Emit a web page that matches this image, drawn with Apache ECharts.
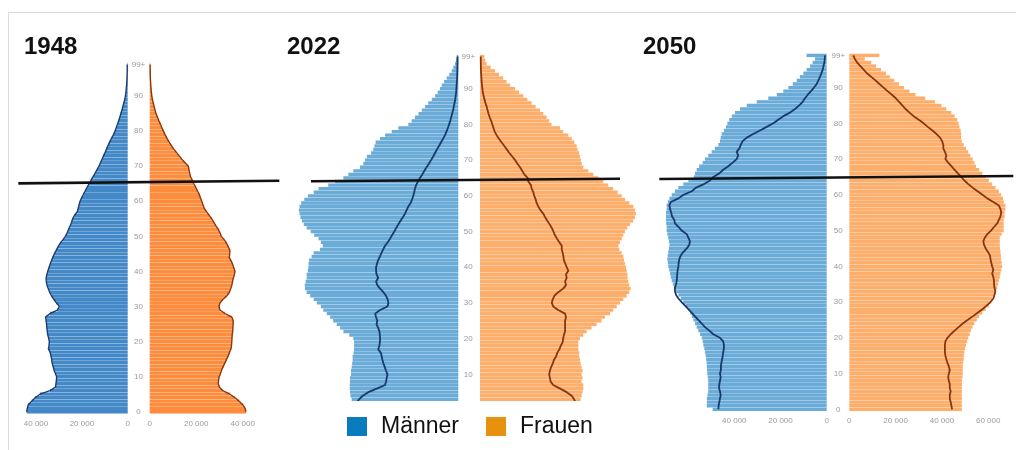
<!DOCTYPE html>
<html><head><meta charset="utf-8">
<script src="https://cdn.jsdelivr.net/npm/echarts@6/dist/echarts.min.js"></script>
<style>html,body{margin:0;padding:0;background:#fff}#c{width:1016px;height:450px}</style>
</head><body><div id="c"></div>
<script>
// ---- categories ----
const ages = Array.from({length: 100}, (_, i) => String(i));
const years = ['1948', '2022', '2050'];
const legendNames = ['Männer', 'Frauen'];

// ---- 1948 (bars + outline) ----
const m1948 = [44100,43800,43400,41900,40400,38300,33900,31500,31300,31100,31000,31600,32200,32600,33000,33200,33500,33900,34600,34300,
34200,34500,34900,35100,35300,35400,35600,35800,33900,30700,29800,31000,32200,33200,34000,34600,35200,35500,35600,35300,
34900,34400,33900,33300,32700,32000,31200,30400,29500,28300,27200,26400,25800,25100,24500,24000,23200,22000,21600,21200,
20800,20100,19300,18500,17700,16800,16000,15100,14200,13400,12500,11900,11200,10500,9800,9200,8500,7800,7000,6200,
5500,5000,4400,3900,3400,3000,2500,2100,1700,1300,1000,800,650,500,400,320,260,220,200,200];
const f1948 = [41400,41000,40000,38500,36700,34500,31400,30000,29500,29600,29900,30500,31000,31700,32400,33100,33800,34400,35000,35200,
35300,35400,35500,35700,35800,35900,35900,35300,32400,30200,29800,30200,31400,33100,34200,34800,35300,35600,35900,36400,
36700,36200,35700,35000,34200,34400,34500,33800,33100,32100,30800,30200,29500,28500,27600,26700,25600,24500,23400,22900,
22400,21800,21300,20500,19800,19000,18300,17600,17200,16900,16600,15200,13800,12600,11400,10200,9200,8200,7400,6600,
5900,5200,4600,3900,3300,2700,2300,1900,1500,1200,900,750,600,480,380,300,250,220,200,200];

// ---- 2022 bars ----
const m2022 = [43500,44000,44500,45000,45500,45700,45800,45800,45700,45700,45300,45300,45000,44800,44600,44600,44200,44000,44000,44000,
44300,46000,48500,49900,51300,52800,54100,55500,57000,58000,59700,61000,62500,64000,64700,64800,64400,64000,64000,63500,
63300,63200,63000,61900,61000,58400,57200,58000,59000,60800,62300,64000,65200,66000,66600,67000,67300,67000,66300,65000,
63500,61000,59000,54900,52000,48500,46400,44300,41500,40100,39400,38600,36800,35900,35400,34900,33000,30900,28100,25300,
21100,19700,18300,16800,15400,14000,12700,11200,9800,8700,7700,7000,6000,4900,3800,2800,2100,1400,1000,700];
const f2022 = [41000,41500,42000,42500,42900,43300,43600,43600,42900,43300,42900,43300,42900,42500,42200,41900,41900,41500,41500,41500,
42200,43600,45000,47100,49200,51300,52700,54900,56200,57700,59100,60500,61900,63000,63600,63000,62600,62300,62200,61900,
61600,61200,60800,60500,59800,58800,58400,59100,59800,60500,61200,62200,63300,64700,65400,65800,65400,64700,63000,61200,
59800,58100,56200,54100,52000,49900,47800,45700,43600,42900,42600,42200,41800,41200,40800,39800,38700,37300,35100,33800,
30200,29200,28100,26700,25300,23500,21800,20000,18300,16500,14800,12700,11200,9800,8000,6300,4500,2800,2200,1800];
// comparison lines drawn in the 2022 panel
const m2022line = [43600,43300,42800,41900,40300,38000,34400,30900,30500,30200,29900,30500,31000,31600,32000,32300,32700,33800,33300,33100,
33000,33100,33300,33800,34500,34200,34700,35100,33000,29900,29500,29800,30500,31600,33000,34200,34700,33800,34500,34700,
34700,34300,33800,33100,32400,31700,30900,29800,28800,27900,27000,26200,25300,24400,23400,22500,21800,21100,20100,19500,
19000,18600,18300,17800,17000,16200,15200,14300,13400,12400,11500,10600,9800,9000,8100,7300,6400,5600,5000,4400,
3900,3400,3000,2600,2200,1900,1600,1300,1100,900,800,700,600,500,450,400,370,340,320,300];
const f2022line = [41000,40800,40400,39700,38700,36600,33800,30900,29800,29500,29200,29500,30000,30700,31200,32100,32600,33500,34100,34900,
35100,35400,35900,35900,35900,35900,36300,35900,33000,30900,30300,30700,31400,33000,35100,36300,35900,36600,36300,37300,
36600,36000,35400,35200,34900,34500,34500,33500,32500,31600,31000,30300,29400,28400,27500,26700,25500,24600,23900,23500,
22900,22500,21800,21500,20400,20100,18700,17800,16900,15800,14800,13600,12400,11300,10200,9100,8000,7000,6200,5700,
5200,4700,4100,3600,3200,2800,2300,1900,1500,1200,1000,850,700,600,500,400,370,340,320,300];

// ---- 2050 bars ----
const m2050 = [49400,51900,51900,51900,51600,51300,51300,51300,51300,51500,51700,51800,51900,52000,52200,52400,52700,53000,53400,53700,
54100,54800,55600,56300,57000,57700,58400,59100,59900,61000,62100,63200,64200,65200,66100,66600,67100,67500,67800,68200,
68600,68800,69000,68800,68600,68300,68100,68300,68600,69000,69300,69300,69500,69600,69600,69600,69300,69300,68800,68100,
67100,65700,64200,62100,59900,57500,57000,56300,55200,53700,52700,51300,49800,48400,46900,46200,45900,45500,44500,43600,
43000,42200,41100,39700,37500,34600,30300,25300,21600,18800,16600,14700,13000,11600,10100,8700,7200,6100,5100,8700];
const f2050 = [48600,48600,48600,48600,48600,48600,48600,48700,48700,48900,49000,49000,49000,49200,49400,49500,49700,50000,50400,50900,
51400,52000,52500,53200,54000,55100,56100,57500,58900,60300,61000,61800,62500,63200,63900,64300,64600,65000,65300,65700,
66000,65800,65600,65500,65300,65100,65000,65000,65000,65800,66700,66700,66700,66700,67100,67100,67400,67400,66700,66400,
65600,64600,63100,61700,60300,58900,57500,56100,54700,54000,53300,52300,51400,50400,49400,48600,48300,48300,48100,47600,
47200,46600,45500,44100,41900,39800,37000,32800,28600,26000,23600,21500,19400,17500,15800,13700,11600,9500,6700,13000];
// comparison lines drawn in the 2050 panel
const m2050line = [46900,46800,46500,46200,45900,46200,46600,46500,46200,45900,46200,45800,45800,45600,45300,45000,44800,44500,44500,44800,
46200,49100,50800,52700,54100,55600,57000,58400,59900,61300,62800,64200,65200,65700,65700,65200,64900,64800,64700,64500,
64200,64100,63800,63200,62100,60600,59500,59200,59900,60600,62800,64100,65700,66000,67000,67300,67800,68100,67500,64200,
62000,58400,56600,53100,50500,49100,46500,44800,42600,40700,39000,38300,39000,37800,37200,36400,34600,31800,28900,26000,
23100,21000,18800,15900,13700,11900,10400,9400,8200,6800,5500,4300,3600,2900,2300,1700,1400,1000,850,700];
const f2050line = [44400,44100,43800,43400,43400,43800,43400,43400,43000,42700,43000,43400,43000,42400,41900,41500,41300,41300,41300,41500,
42400,43800,45500,47200,49000,51100,53300,55400,57500,59300,61000,62200,62700,63100,62700,62500,62500,62200,61700,62200,
61700,61300,61000,60800,59900,58900,58200,57900,58500,59600,61200,62500,63900,64600,65300,65600,65300,64600,62200,59600,
57500,55400,53300,51400,49700,48300,46900,45500,44100,42700,41500,41900,41300,40600,40600,40100,39200,37700,35900,33900,
32100,30000,27800,26000,24300,22900,21500,20100,18400,16500,14800,13000,11300,9500,7600,6200,4800,3400,2400,1700];

// ---- black reference lines (age at left end, age at right end) ----
const refLineAges = [[65.1, 65.85], [64.06, 64.8], [64.42, 65.26]];

// ---- layout (pixels) ----
const layout = [
  {tx: 24, mL: 17.7, mW: 110.0, fL: 149.7, fW: 111.6, max: 48000, top: 62.7, h: 350.8, lblM: 10.8,
   xLab: true, labMaxM: 40000, labMaxF: 40000, rx0: 18.3, rx1: 279.3,
   barM: '#4388c7', barF: '#fd8c3c', lineM: '#1c3c70', lineF: '#8a3610', lw: 1.4},
  {tx: 287, mL: 287.7, mW: 170.6, fL: 480, fW: 170.6, max: 72000, top: 54.8, h: 357, lblM: 10,
   xLab: false, labMaxM: 40000, labMaxF: 60000, rx0: 311, rx1: 620,
   barM: '#6aabd7', barF: '#fdae6b', lineM: '#173a6c', lineF: '#8b3510', lw: 1.8},
  {tx: 643, mL: 660.4, mW: 166.3, fL: 849.3, fW: 169.7, max: 72000, top: 53.6, h: 357.5, lblM: 11.6,
   xLab: true, labMaxM: 40000, labMaxF: 60000, rx0: 659.3, rx1: 1013.3,
   barM: '#6aabd7', barF: '#fdae6b', lineM: '#173a6c', lineF: '#8b3510', lw: 1.8}
];
const panelData = [
  {m: m1948, f: f1948, lm: m1948, lf: f1948},
  {m: m2022, f: f2022, lm: m2022line, lf: f2022line},
  {m: m2050, f: f2050, lm: m2050line, lf: f2050line}
];

const fmtNum = v => String(v).replace(/\B(?=(\d{3})+(?!\d))/g, ' ');
const FONT = 'Liberation Sans, Arial, sans-serif';

const grid = [], xAxis = [], yAxis = [], series = [], title = [];
layout.forEach((L, p) => {
  const D = panelData[p];
  const gi = p * 3;
  title.push({text: years[p], left: L.tx, top: 34, padding: 0,
    textStyle: {fontFamily: FONT, fontWeight: 'bold', fontSize: 24, color: '#111', lineHeight: 26}});
  grid.push({left: L.mL, top: L.top, width: L.mW, height: L.h, containLabel: false});
  grid.push({left: L.fL, top: L.top, width: L.fW, height: L.h, containLabel: false});
  grid.push({left: L.rx0, top: L.top, width: L.rx1 - L.rx0, height: L.h, containLabel: false});
  const xl = (maxLab) => ({show: L.xLab, fontSize: 8, color: '#9a9a9a', fontFamily: FONT, margin: 6,
    showMaxLabel: false, formatter: v => v <= maxLab ? fmtNum(v) : ''});
  xAxis.push({gridIndex: gi, type: 'value', inverse: true, min: 0, max: L.max, interval: 20000,
    splitLine: {show: false}, axisLine: {show: false}, axisTick: {show: false}, axisLabel: xl(L.labMaxM)});
  xAxis.push({gridIndex: gi + 1, type: 'value', min: 0, max: L.max, interval: 20000,
    splitLine: {show: false}, axisLine: {show: false}, axisTick: {show: false}, axisLabel: xl(L.labMaxF)});
  xAxis.push({gridIndex: gi + 2, type: 'value', min: 0, max: 1, show: false});
  yAxis.push({gridIndex: gi, type: 'category', data: ages, position: 'right',
    axisLine: {show: false}, axisTick: {show: false},
    axisLabel: {interval: (i) => i % 10 === 0 || i === 99, formatter: v => v === '99' ? '99+' : v,
      align: 'center', margin: L.lblM, fontSize: 8, color: '#9a9a9a', fontFamily: FONT}});
  yAxis.push({gridIndex: gi + 1, type: 'category', data: ages, show: false});
  yAxis.push({gridIndex: gi + 2, type: 'value', min: -0.5, max: 99.5, show: false});

  series.push({name: legendNames[0], type: 'bar', xAxisIndex: gi, yAxisIndex: gi, data: D.m,
    barCategoryGap: '6%', itemStyle: {color: L.barM}, silent: true});
  series.push({name: legendNames[1], type: 'bar', xAxisIndex: gi + 1, yAxisIndex: gi + 1, data: D.f,
    barCategoryGap: '6%', itemStyle: {color: L.barF}, silent: true});
  series.push({name: 'lm' + p, type: 'line', xAxisIndex: gi, yAxisIndex: gi, data: D.lm,
    symbol: 'none', lineStyle: {color: L.lineM, width: L.lw}, z: 5, silent: true});
  series.push({name: 'lf' + p, type: 'line', xAxisIndex: gi + 1, yAxisIndex: gi + 1, data: D.lf,
    symbol: 'none', lineStyle: {color: L.lineF, width: L.lw}, z: 5, silent: true});
  series.push({name: 'ref' + p, type: 'line', xAxisIndex: gi + 2, yAxisIndex: gi + 2,
    data: [[0, refLineAges[p][0]], [1, refLineAges[p][1]]],
    symbol: 'none', lineStyle: {color: '#111', width: 2.6}, z: 10, silent: true});
});

const chart = echarts.init(document.getElementById('c'), null, {renderer: 'canvas'});
chart.setOption({
  animation: false,
  backgroundColor: '#fff',
  title, grid, xAxis, yAxis, series,
  legend: {
    data: [{name: 'Männer', itemStyle: {color: '#0b7bc0'}}, {name: 'Frauen', itemStyle: {color: '#e6920e'}}],
    left: 290, top: 401, padding: [14, 44, 16, 57], backgroundColor: '#fff',
    itemWidth: 20, itemHeight: 19, itemGap: 27, icon: 'rect', selectedMode: false, z: 20,
    textStyle: {fontSize: 23, color: '#111', fontFamily: FONT, padding: [0, 0, 0, 9]}
  },
  graphic: [{type: 'polyline', silent: true, z: 100,
    shape: {points: [[8.5, 450], [8.5, 12.5], [1016, 12.5]]},
    style: {stroke: '#dadada', fill: null, lineWidth: 1}}]
});
</script>
</body></html>
